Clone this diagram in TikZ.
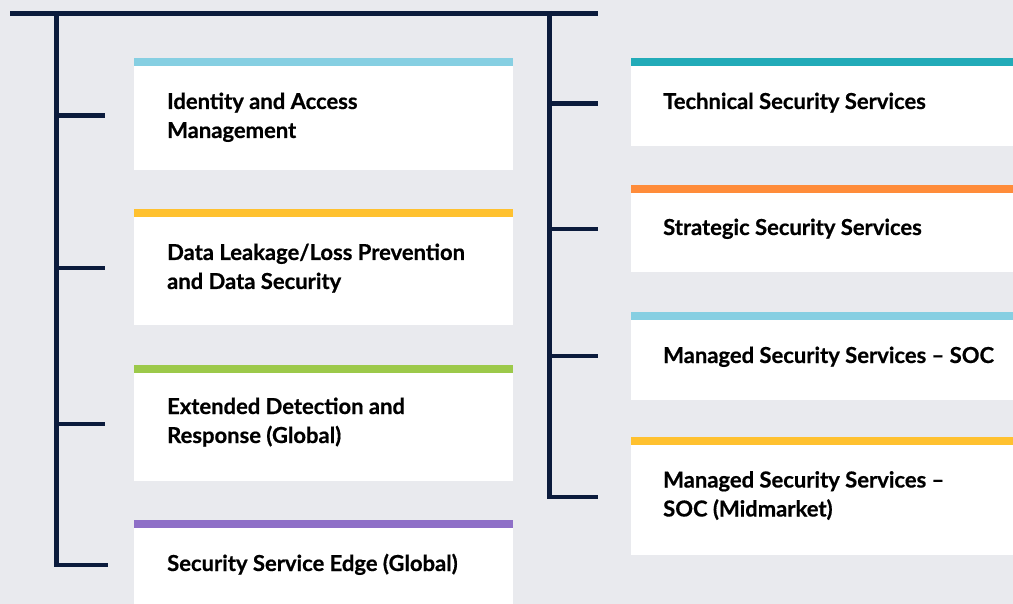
\documentclass[tikz,border=0pt]{standalone}
\usepackage{fontspec}
\setmainfont{Lato}[BoldFeatures={FakeBold=0.6}]
\definecolor{bg}{HTML}{E9EAEE}
\definecolor{navy}{HTML}{0B1B3C}
\definecolor{cblue}{HTML}{86CFE2}
\definecolor{cyellow}{HTML}{FFC12F}
\definecolor{cgreen}{HTML}{9CC94A}
\definecolor{cpurple}{HTML}{8E6FC7}
\definecolor{cteal}{HTML}{22ABB8}
\definecolor{corange}{HTML}{FF8C3A}
\tikzset{
  tree/.style={draw=navy, line width=4.7pt, line cap=butt, line join=miter},
  lbl/.style={anchor=base west, inner sep=0pt, text=black,
    font=\fontsize{22}{29}\selectfont\bfseries}
}
\newcommand{\cardtext}[1]{\parbox[t]{345pt}{\raggedright #1}}
\begin{document}
\begin{tikzpicture}[x=1pt,y=-1pt]
\fill[bg] (0,0) rectangle (1013,604);
\useasboundingbox (0,0) rectangle (1013,604);
% cards left
\foreach \t/\b/\c in {58.5/170/cblue, 209/325/cyellow, 364.5/481/cgreen, 520/610/cpurple}{
  \fill[white] (134,\t) rectangle (513,\b);
  \fill[\c] (134,\t) rectangle (513,\t+8);
}
% cards right
\foreach \t/\b/\c in {58.3/145.7/cteal, 184.8/271.7/corange, 312.3/400/cblue, 437/555/cyellow}{
  \fill[white] (631,\t) rectangle (1020,\b);
  \fill[\c] (631,\t) rectangle (1020,\t+8);
}
% tree coordinates
\coordinate (tl) at (10,13.3);
\coordinate (tr) at (598,13.3);
\coordinate (lt) at (56.5,11);
\coordinate (lb) at (56.5,565);
\coordinate (lbe) at (107.7,565);
\coordinate (rt) at (549.5,11);
\coordinate (rb) at (549.5,497);
\coordinate (rbe) at (597.7,497);
\draw[tree] (tl) -- (tr);
\draw[tree] (lt) -- (lb) -- (lbe);
\draw[tree] (rt) -- (rb) -- (rbe);
\foreach \y [count=\i] in {115.7,268,424}{
  \coordinate (la\i) at (56.5,\y);
  \coordinate (lz\i) at (105,\y);
  \draw[tree] (la\i) -- (lz\i);
}
\foreach \y [count=\i] in {103.3,229,356}{
  \coordinate (ra\i) at (549.5,\y);
  \coordinate (rz\i) at (597.7,\y);
  \draw[tree] (ra\i) -- (rz\i);
}
% labels
\node[lbl] (l1) at (167,109) {\cardtext{Identity and Access\\Management}};
\node[lbl] (l2) at (167,260) {\cardtext{Data Leakage/Loss Prevention\\and Data Security}};
\node[lbl] (l3) at (167,414) {\cardtext{Extended Detection and\\Response (Global)}};
\node[lbl] (l4) at (167,571) {\cardtext{Security Service Edge (Global)}};
\node[lbl] (r1) at (663,109) {\cardtext{Technical Security Services}};
\node[lbl] (r2) at (663,235) {\cardtext{Strategic Security Services}};
\node[lbl] (r3) at (663,363) {\cardtext{Managed Security Services – SOC}};
\node[lbl] (r4) at (663,487.5) {\cardtext{Managed Security Services –\\SOC (Midmarket)}};
\end{tikzpicture}
\end{document}
